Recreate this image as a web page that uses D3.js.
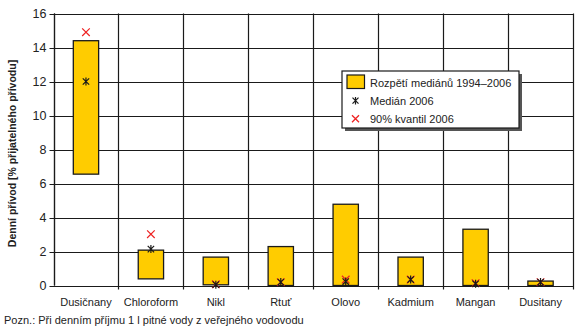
<!DOCTYPE html>
<html>
<head>
<meta charset="utf-8">
<script src="https://cdn.jsdelivr.net/npm/d3@7"></script>
<style>
  html, body { margin: 0; padding: 0; background: #fff; }
  svg { display: block; font-family: "Liberation Sans", Arial, sans-serif; }
</style>
</head>
<body>
<svg id="chart" width="576" height="328"></svg>
<script>
// Substances and daily intake as % of acceptable intake
const categories = ["Dusičnany", "Chloroform", "Nikl", "Rtuť", "Olovo", "Kadmium", "Mangan", "Dusitany"];
const rangeLow   = [6.55, 0.39, 0.04, 0.0, 0.0, 0.0, 0.0, 0.0];   // min of medians 1994–2006
const rangeHigh  = [14.4, 2.08, 1.67, 2.29, 4.78, 1.67, 3.31, 0.26]; // max of medians 1994–2006
const median2006 = [12.0, 2.14, 0.05, 0.2, 0.23, 0.35, 0.1, 0.2];
const q90_2006   = [14.9, 3.02, 0.07, 0.2, 0.35, 0.35, 0.14, 0.2];
const yTicks = [0, 2, 4, 6, 8, 10, 12, 14, 16];

const legendLabels = ["Rozpětí mediánů 1994–2006", "Medián 2006", "90% kvantil 2006"];
const yTitle = "Denní přívod [% přijatelného přívodu]";
const footnote = "Pozn.: Při denním příjmu 1 l pitné vody z veřejného vodovodu";

const svg = d3.select("#chart");
const margin = { left: 53.5, top: 13.5, right: 3, bottom: 42.5 };
const W = 576, H = 328;
const x0 = margin.left, x1 = W - margin.right;
const y0 = H - margin.bottom, y1 = margin.top;

const x = d3.scaleBand().domain(categories).range([x0, x1]).paddingInner(0).paddingOuter(0);
const y = d3.scaleLinear().domain([0, 16]).range([y0, y1]);
const barW = x.bandwidth() * 0.39;

const ink = "#1a1a1a";
const barFill = "#FFCC00";
const red = "#ee2222";

// Horizontal grid
svg.append("g").selectAll("line").data(yTicks).join("line")
  .attr("x1", x0 - 4).attr("x2", x1)
  .attr("y1", d => Math.round(y(d)) + 0.5).attr("y2", d => Math.round(y(d)) + 0.5)
  .attr("stroke", ink).attr("stroke-width", 1.2);

// Vertical separators between categories (extend below axis as ticks)
const seps = categories.map(c => x(c)).concat([x1]);
svg.append("g").selectAll("line").data(seps).join("line")
  .attr("x1", d => Math.round(d) + 0.5).attr("x2", d => Math.round(d) + 0.5)
  .attr("y1", y1).attr("y2", d => (d === seps[0] ? y0 : y0 + 4))
  .attr("stroke", ink).attr("stroke-width", 1.2);

// Left axis line
svg.append("line")
  .attr("x1", Math.round(x0) + 0.5).attr("x2", Math.round(x0) + 0.5)
  .attr("y1", y1).attr("y2", y0)
  .attr("stroke", ink).attr("stroke-width", 1.2);

// Y tick labels
svg.append("g").selectAll("text").data(yTicks).join("text")
  .attr("x", x0 - 7).attr("y", d => y(d))
  .attr("dy", "0.35em").attr("text-anchor", "end")
  .attr("font-size", 12.5).attr("fill", "#222")
  .text(d => d);

// Y title
svg.append("text")
  .attr("transform", `translate(16,${(y0 + y1) / 2 + 4}) rotate(-90)`)
  .attr("text-anchor", "middle")
  .attr("font-size", 10.5).attr("font-weight", "bold").attr("fill", "#222")
  .text(yTitle);

// Range bars
svg.append("g").selectAll("rect").data(categories).join("rect")
  .attr("x", c => x(c) + x.bandwidth() / 2 - barW / 2)
  .attr("width", barW)
  .attr("y", (c, i) => y(rangeHigh[i]))
  .attr("height", (c, i) => y(rangeLow[i]) - y(rangeHigh[i]))
  .attr("fill", barFill).attr("stroke", ink).attr("stroke-width", 1.3);

// Marker shapes
function starPath(s) {
  return `M${-s},${-s}L${s},${s}M${-s},${s}L${s},${-s}M0,${-s * 1.25}L0,${s * 1.25}`;
}
function crossPath(s) {
  return `M${-s},${-s}L${s},${s}M${-s},${s}L${s},${-s}`;
}

// 90% quantile markers
svg.append("g").selectAll("path").data(categories).join("path")
  .attr("transform", (c, i) => `translate(${x(c) + x.bandwidth() / 2},${y(q90_2006[i])})`)
  .attr("d", crossPath(3.8))
  .attr("fill", "none").attr("stroke", red).attr("stroke-width", 1.2);

// Median markers
svg.append("g").selectAll("path").data(categories).join("path")
  .attr("transform", (c, i) => `translate(${x(c) + x.bandwidth() / 2},${y(median2006[i])})`)
  .attr("d", starPath(3.2))
  .attr("fill", "none").attr("stroke", ink).attr("stroke-width", 1.2);

// Category labels
svg.append("g").selectAll("text").data(categories).join("text")
  .attr("x", c => x(c) + x.bandwidth() / 2).attr("y", 302)
  .attr("dy", "0.35em").attr("text-anchor", "middle")
  .attr("font-size", 11).attr("fill", "#222")
  .text(c => c);

// Footnote
svg.append("text")
  .attr("x", 4).attr("y", 320).attr("dy", "0.35em")
  .attr("font-size", 11).attr("fill", "#222")
  .text(footnote);

// Legend with drop shadow
const lg = svg.append("g").attr("transform", "translate(342,71)");
const lw = 177, lh = 57;
lg.append("rect").attr("x", 3).attr("y", 3).attr("width", lw).attr("height", lh).attr("fill", "#555");
lg.append("rect").attr("x", 0).attr("y", 0).attr("width", lw).attr("height", lh)
  .attr("fill", "#fff").attr("stroke", ink).attr("stroke-width", 1.2);
const rows = [11.7, 29.7, 47.7];
lg.append("rect").attr("x", 5).attr("y", 4).attr("width", 17.5).attr("height", 13.5)
  .attr("fill", barFill).attr("stroke", ink).attr("stroke-width", 1.2);
lg.append("path").attr("transform", `translate(13.5,${rows[1]})`).attr("d", starPath(3))
  .attr("fill", "none").attr("stroke", ink).attr("stroke-width", 1.2);
lg.append("path").attr("transform", `translate(13.5,${rows[2]})`).attr("d", crossPath(3.5))
  .attr("fill", "none").attr("stroke", red).attr("stroke-width", 1.3);
lg.selectAll("text.lab").data(legendLabels).join("text").attr("class", "lab")
  .attr("x", 28).attr("y", (d, i) => rows[i]).attr("dy", "0.35em")
  .attr("font-size", 11).attr("fill", "#222")
  .text(d => d);
</script>
</body>
</html>
